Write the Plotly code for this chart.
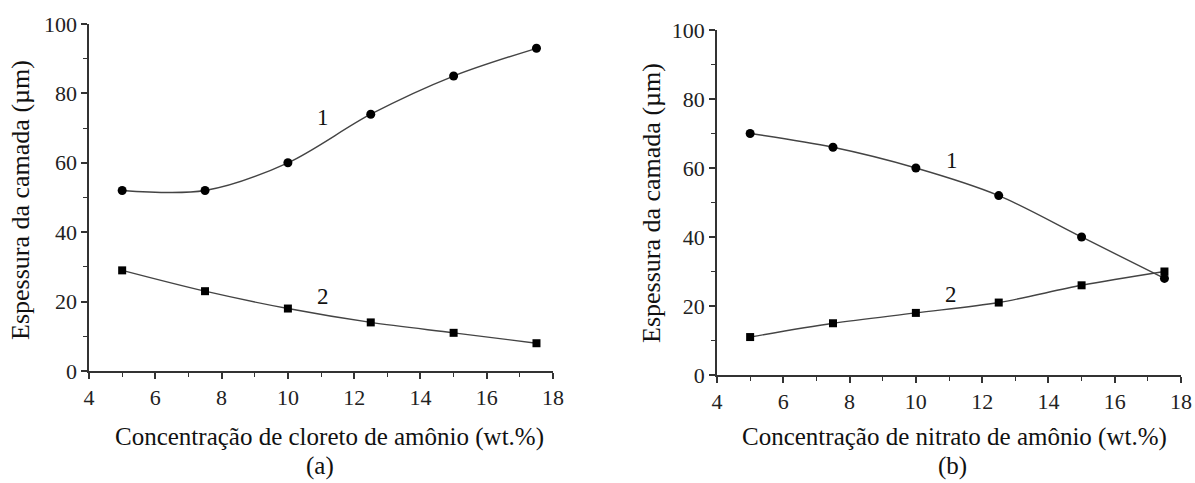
import plotly.graph_objects as go

# Concentration of the ammonium salt (wt.%)
conc = [5, 7.5, 10, 12.5, 15, 17.5]

# (a) ammonium chloride: layer thickness (µm)
cloreto_1 = [52, 52, 60, 74, 85, 93]
cloreto_2 = [29, 23, 18, 14, 11, 8]

# (b) ammonium nitrate: layer thickness (µm)
nitrato_1 = [70, 66, 60, 52, 40, 28]
nitrato_2 = [11, 15, 18, 21, 26, 30]

x_ticks = [4, 6, 8, 10, 12, 14, 16, 18]
y_ticks = [0, 20, 40, 60, 80, 100]

FONT = "Times New Roman"
INK = "#111111"
LINE = "#444444"

fig = go.Figure()


def add_series(xs, ys, symbol, size, xa, ya):
    fig.add_trace(go.Scatter(
        x=xs, y=ys, mode="lines+markers", xaxis=xa, yaxis=ya,
        line=dict(color=LINE, width=1.4, shape="spline", smoothing=0.9),
        marker=dict(symbol=symbol, size=size, color="#000000"),
        showlegend=False,
    ))


add_series(conc, cloreto_1, "circle", 9, "x", "y")
add_series(conc, cloreto_2, "square", 8, "x", "y")
add_series(conc, nitrato_1, "circle", 9, "x2", "y2")
add_series(conc, nitrato_2, "square", 8, "x2", "y2")

axis_common = dict(
    showgrid=False, zeroline=False, showline=True, linecolor="#333333",
    linewidth=1.5, ticks="outside", ticklen=6, tickwidth=1.5,
    tickcolor="#333333", mirror=False, automargin=False,
    tickfont=dict(family=FONT, size=22, color="#222222"),
)
xaxis_common = dict(axis_common, range=[4, 18], tickvals=x_ticks,
                    minor=dict(dtick=1, ticks="outside", ticklen=4,
                               tickwidth=1.2, tickcolor="#333333"))
yaxis_common = dict(axis_common, range=[0, 100], tickvals=y_ticks,
                    minor=dict(dtick=10, ticks="outside", ticklen=4,
                               tickwidth=1.2, tickcolor="#333333"))

fig.update_layout(
    width=1195, height=483,
    font=dict(family=FONT, color=INK),
    margin=dict(l=0, r=0, t=0, b=0, autoexpand=False),
    paper_bgcolor="white", plot_bgcolor="white",
    xaxis=dict(xaxis_common, domain=[0.0745, 0.4628], anchor="y"),
    yaxis=dict(yaxis_common, domain=[0.2319, 0.9503], anchor="x"),
    xaxis2=dict(xaxis_common, domain=[0.6, 0.9883], anchor="y2"),
    yaxis2=dict(yaxis_common, domain=[0.2236, 0.9379], anchor="x2"),
)

ann = []
# curve numbers
for xa, ya, x, y, t in [("x", "y", 11.05, 73, "1"), ("x", "y", 11.05, 21.5, "2"),
                        ("x2", "y2", 11.1, 62.3, "1"), ("x2", "y2", 11.05, 23.2, "2")]:
    ann.append(dict(xref=xa, yref=ya, x=x, y=y, text=t, showarrow=False,
                    font=dict(family=FONT, size=23, color=INK)))

# axis titles and panel letters (paper coordinates)
def paper(px, py):
    return px / 1195, 1 - py / 483

for px, py, text, angle, size in [
    (329, 437, "Concentração de cloreto de amônio (wt.%)", 0, 25),
    (954, 437, "Concentração de nitrato de amônio (wt.%)", 0, 25),
    (320, 466, "(a)", 0, 25),
    (952, 466, "(b)", 0, 25),
    (21, 200, "Espessura da camada (µm)", -90, 26),
    (651, 203, "Espessura da camada (µm)", -90, 26),
]:
    x, y = paper(px, py)
    ann.append(dict(xref="paper", yref="paper", x=x, y=y, text=text,
                    textangle=angle, showarrow=False, xanchor="center",
                    yanchor="middle", font=dict(family=FONT, size=size, color=INK)))

fig.update_layout(annotations=ann)
fig.write_html("out.html")
